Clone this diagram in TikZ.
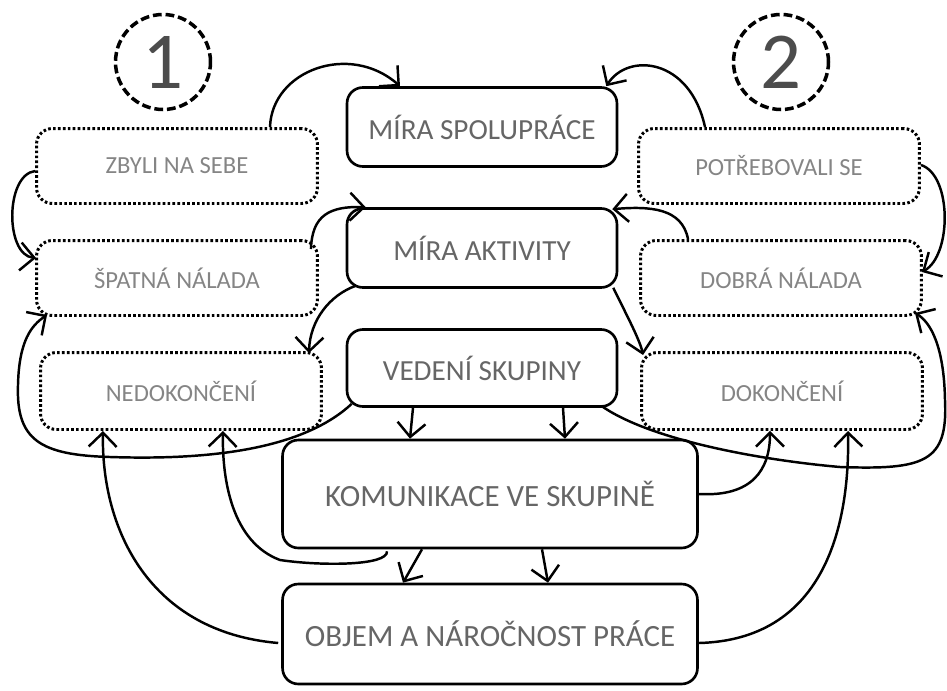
\documentclass[tikz,border=0pt]{standalone}
\usepackage{fontspec}
\setmainfont{Carlito}
\usepackage{xcolor}
\usetikzlibrary{arrows.meta,calc}
\definecolor{txtdark}{gray}{0.4}
\definecolor{txtlight}{gray}{0.52}

\begin{document}
\begin{tikzpicture}[x=0.02cm,y=-0.02cm,
    >={Straight Barb[length=2.8mm,width=5.6mm]},
    every path/.style={line width=1.4pt},
    solidbox/.style={draw,line width=1.5pt,rounded corners=9pt,minimum width=5.4cm,
      minimum height=1.58cm,text=txtdark,font=\fontsize{16.6}{18}\selectfont},
    bigbox/.style={solidbox,minimum width=8.3cm,font=\fontsize{17.6}{19}\selectfont},
    dotbox/.style={draw,line width=1.7pt,dash pattern=on 1.5pt off 1.3pt,rounded corners=9pt,
      minimum width=5.62cm,minimum height=1.5cm,text=txtlight,font=\fontsize{14}{15}\selectfont},
    numcirc/.style={draw,circle,line width=2pt,dash pattern=on 5pt off 2.2pt,minimum size=1.9cm,
      inner sep=0pt,text=black!70,font=\fontsize{46}{46}\selectfont}]
    \useasboundingbox (0,0) rectangle (947,690);

    \node[numcirc] (c1) at (163,62) {1};
    \node[numcirc] (c2) at (781,62) {2};

    \node[solidbox] (spol) at (482,127) {MÍRA SPOLUPRÁCE};
    \node[solidbox] (akt) at (482,248) {MÍRA AKTIVITY};
    \node[solidbox,minimum height=1.54cm] (ved) at (482,368) {VEDENÍ SKUPINY};
    \node[bigbox,minimum height=2.16cm] (kom) at (490,494) {KOMUNIKACE VE SKUPINĚ};
    \node[bigbox,minimum height=2cm] (obj) at (490,634) {OBJEM A NÁROČNOST PRÁCE};

    \node[dotbox] (zby) at (177,166) {ZBYLI NA SEBE};
    \node[dotbox] (spat) at (177,278) {ŠPATNÁ NÁLADA};
    \node[dotbox,minimum height=1.54cm] (nedo) at (181,391) {NEDOKONČENÍ};
    \node[dotbox] (potr) at (779,166) {POTŘEBOVALI SE};
    \node[dotbox] (dobr) at (781,278) {DOBRÁ NÁLADA};
    \node[dotbox,minimum height=1.54cm] (doko) at (782,391) {DOKONČENÍ};

    \draw[->] ($(zby.north)+(93,0)$) .. controls (272,70) and (350,42) .. ($(spol.north)+(-82,0)$);
    \draw[->] ($(potr.north)+(-74,0)$) .. controls (690,58) and (628,52) .. ($(spol.north east)+(-12,0)$);
    \draw[->] ($(zby.west)+(0,5)$) .. controls (5,175) and (5,255) .. ($(spat.west)+(1,-20)$);
    \draw[->] ($(potr.east)+(0,-1)$) .. controls (952,175) and (952,255) .. ($(dobr.east)+(-1,-6)$);

    \draw[->] ($(spat.north east)+(-8,10)$) .. controls (312,215) and (330,206) .. ($(akt.north west)+(20,0)$);
    \draw[->] ($(dobr.north)+(-93,0)$) .. controls (682,208) and (650,206) .. ($(akt.north east)+(-6,2)$);
    \draw[->] ($(akt.south west)+(10,-3)$) .. controls (330,295) and (310,320) .. ($(nedo.north east)+(-14,2)$);
    \draw[->] ($(akt.south east)+(-5,-1)$) .. controls (625,312) and (640,340) .. ($(doko.north west)+(3,4)$);

    \draw[->] ($(ved.south west)+(6,-4)$) .. controls (300,452) and (200,460) .. (110,457)
      .. controls (40,455) and (16,440) .. (18,385) .. controls (19,340) and (32,325) .. ($(spat.south west)+(12,-2)$);
    \draw[->] ($(ved.south east)+(-17,-2)$) .. controls (650,440) and (760,460) .. (840,467)
      .. controls (925,470) and (948,462) .. (945,400) .. controls (944,345) and (930,322) .. ($(dobr.south east)+(-8,-4)$);

    \draw[->] ($(ved.south)+(-69,0)$) -- ($(kom.north)+(-80,0)$);
    \draw[->] ($(ved.south)+(81,0)$) -- ($(kom.north)+(75,0)$);
    \draw[->] ($(kom.south)+(-68,0)$) -- ($(obj.north)+(-87,0)$);
    \draw[->] ($(kom.south)+(52,0)$) -- ($(obj.north)+(58,0)$);

    \draw[->] ($(kom.south)+(-103,2)$) .. controls (388,566) and (320,566) .. (280,560)
      .. controls (232,542) and (222,480) .. ($(nedo.south)+(42,0)$);
    \draw[->] (kom.east) .. controls (752,497) and (770,470) .. ($(doko.south)+(-12,0)$);
    \draw[->] ($(obj.west)+(-3,9)$) .. controls (150,632) and (101,530) .. ($(nedo.south)+(-78,0)$);
    \draw[->] ($(obj.east)+(0,9)$) .. controls (822,640) and (850,530) .. ($(doko.south)+(66,0)$);
\end{tikzpicture}
\end{document}
